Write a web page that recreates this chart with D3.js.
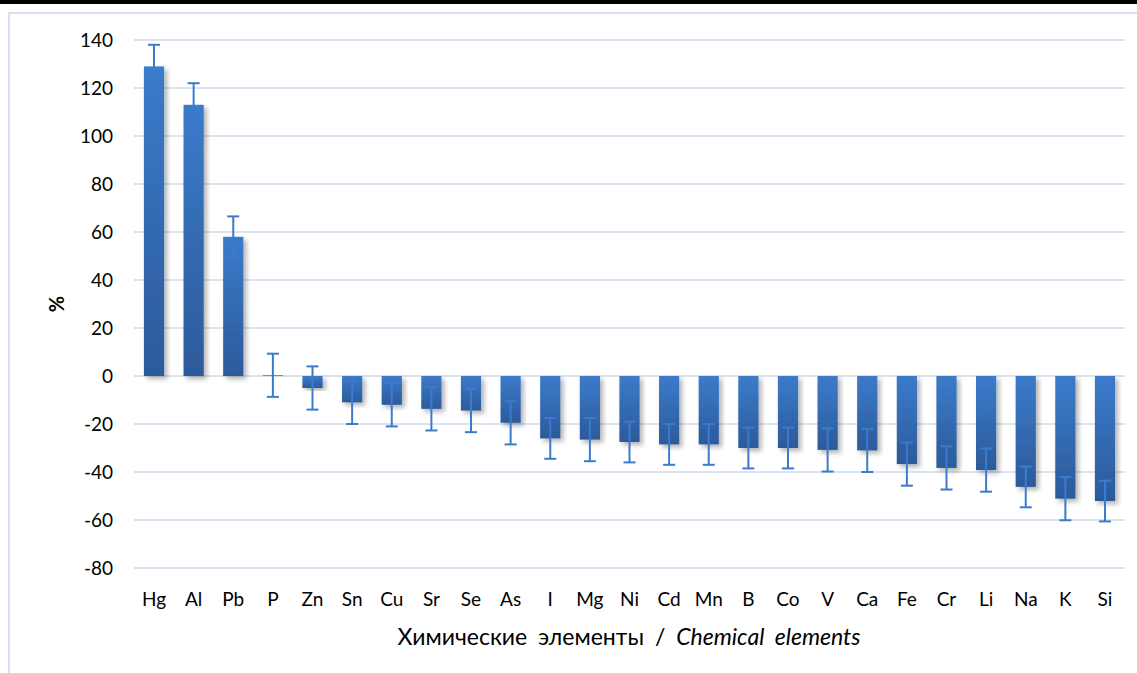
<!DOCTYPE html>
<html><head><meta charset="utf-8">
<script src="https://cdn.jsdelivr.net/npm/d3@7"></script>
<style>body{margin:0;background:#fff;}svg{display:block;}</style>
</head><body>
<script>
const categories = ["Hg","Al","Pb","P","Zn","Sn","Cu","Sr","Se","As","I","Mg","Ni","Cd","Mn","B","Co","V","Ca","Fe","Cr","Li","Na","K","Si"];
const values = [129,113,58,0.3,-5,-11,-12,-13.7,-14.4,-19.5,-26,-26.5,-27.5,-28.5,-28.5,-30,-30,-30.8,-31,-36.7,-38.3,-39.2,-46.2,-51.1,-52.1];
const errors = [9,9,8.5,9,9,9,9,9,9,9,8.5,9,8.5,8.5,8.5,8.5,8.5,9,9,9,9,9,8.5,9,8.5];
const yTicks = [140,120,100,80,60,40,20,0,-20,-40,-60,-80];

const W = 1137, H = 673;
const svg = d3.select("body").append("svg").attr("width", W).attr("height", H);
const font = "Lato, 'Open Sans', sans-serif";

const defs = svg.append("defs");
const grad = defs.append("linearGradient").attr("id","barGrad").attr("x1",0).attr("y1",0).attr("x2",0).attr("y2",1);
grad.append("stop").attr("offset","0%").attr("stop-color","#3b7bcb");
grad.append("stop").attr("offset","100%").attr("stop-color","#2c5a9a");
const f = defs.append("filter").attr("id","shadow").attr("x","-30%").attr("y","-10%").attr("width","160%").attr("height","130%");
f.append("feDropShadow").attr("dx",3).attr("dy",3).attr("stdDeviation",2.5).attr("flood-color","#000").attr("flood-opacity",0.3);

// top black band and frame
svg.append("rect").attr("x",0).attr("y",0).attr("width",W).attr("height",4).attr("fill","#000");
svg.append("rect").attr("x",9).attr("y",13).attr("width",W).attr("height",H).attr("fill","none").attr("stroke","#d5e2f2").attr("stroke-width",2);

const x = d3.scaleBand().domain(categories).range([134,1125]).paddingInner(0.49).paddingOuter(0.25);
const y = d3.scaleLinear().domain([-80,140]).range([568,40]);

// gridlines
svg.append("g").selectAll("line").data(yTicks).join("line")
  .attr("x1",134).attr("x2",1125).attr("y1",d=>y(d)).attr("y2",d=>y(d))
  .attr("stroke","#d9e4f2").attr("stroke-width",2);

// y axis labels
const yAxis = d3.axisLeft(y).tickValues(yTicks).tickFormat(d=>String(d)).tickSize(0).tickPadding(0);
const yg = svg.append("g").attr("transform","translate(113,0)").call(yAxis);
yg.select(".domain").remove();
yg.selectAll("text").attr("font-family",font).attr("font-size",19).attr("fill","#000").attr("dy","0.35em");

// bars
svg.append("g").selectAll("rect").data(values).join("rect")
  .attr("x",(d,i)=>x(categories[i]))
  .attr("width",x.bandwidth())
  .attr("y",d=>y(Math.max(0,d)))
  .attr("height",d=>Math.abs(y(d)-y(0)))
  .attr("fill","url(#barGrad)")
  .attr("filter","url(#shadow)");

// error bars
const eg = svg.append("g").attr("stroke","#3a7bd0").attr("stroke-width",2);
values.forEach((v,i)=>{
  const cx = x(categories[i]) + x.bandwidth()/2;
  const t = y(v+errors[i]), b = y(v-errors[i]);
  eg.append("line").attr("x1",cx).attr("x2",cx).attr("y1",t).attr("y2",b);
  eg.append("line").attr("x1",cx-6).attr("x2",cx+6).attr("y1",t).attr("y2",t);
  eg.append("line").attr("x1",cx-6).attr("x2",cx+6).attr("y1",b).attr("y2",b);
});

// x axis labels
const xAxis = d3.axisBottom(x).tickSize(0).tickPadding(0);
const xg = svg.append("g").attr("transform","translate(0,592)").call(xAxis);
xg.select(".domain").remove();
xg.selectAll("text").attr("font-family",font).attr("font-size",19).attr("fill","#000").attr("dy","0.71em");

// axis titles
const tt = svg.append("text").attr("x",629).attr("y",645).attr("text-anchor","middle")
  .attr("font-family",font).attr("font-size",23).attr("word-spacing",5).attr("fill","#000");
tt.append("tspan").text("Химические элементы / ");
tt.append("tspan").attr("font-style","italic").text("Chemical elements");

svg.append("text").attr("transform","translate(64,304) rotate(-90)").attr("text-anchor","middle")
  .attr("font-family",font).attr("font-size",20).attr("font-weight","bold").attr("fill","#000").text("%");
</script>
</body></html>
